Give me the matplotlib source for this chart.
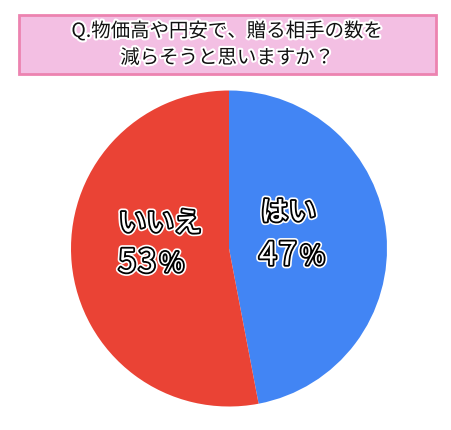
import matplotlib
matplotlib.use("Agg")
import matplotlib.pyplot as plt
import matplotlib.patches as patches
import matplotlib.patheffects as pe

plt.rcParams['font.family'] = ['Noto Sans CJK JP', 'DejaVu Sans']

# Chart data
title = "Q.物価高や円安で、贈る相手の数を\n減らそうと思いますか？"
labels = ["はい", "いいえ"]
values = [47, 53]
colors = ["#4285f4", "#ea4335"]

W, H = 452, 431
fig = plt.figure(figsize=(W / 100, H / 100), dpi=100)

# Title box (pixel coords converted to figure fraction)
box = patches.Rectangle((19 / W, 1 - 75 / H), 417 / W, 59 / H,
                        transform=fig.transFigure, facecolor="#f3bfe3",
                        edgecolor="#ec83b0", linewidth=2)
fig.patches.append(box)
fig.text(227.5 / W, 1 - 45.5 / H, title, ha="center", va="center",
         fontsize=14, linespacing=1.35, color="#111111",
         path_effects=[pe.withStroke(linewidth=3, foreground="white")])

# Pie
cx, cy, r = 229, 249.5, 158
ax = fig.add_axes([(cx - r) / W, 1 - (cy + r) / H, 2 * r / W, 2 * r / H])
ax.pie(values, colors=colors, startangle=90, counterclock=False,
       radius=1, wedgeprops=dict(linewidth=0))
ax.set_xlim(-1, 1)
ax.set_ylim(-1, 1)
ax.axis("off")

label_fx = [pe.Stroke(linewidth=5, foreground="white"),
            pe.Stroke(linewidth=2.6, foreground="black"),
            pe.Normal()]

# label positions in data units: (name x, name y, pct x, pct y)
label_pos = [(0.2, 0.231, 0.19, -0.047),
             (-0.7, 0.161, -0.7, -0.092)]
for lab, val, (lx, ly, px, py) in zip(labels, values, label_pos):
    ax.text(lx, ly, lab, ha="left", va="center", fontsize=20,
            fontweight="medium", color="white", path_effects=label_fx)
    # draw digits one by one so they get a little extra spacing
    chars = list(str(val))
    prev = ax.text(px, py, chars[0], ha="left", va="center", fontsize=23,
                   color="white", path_effects=label_fx)
    for ch in chars[1:]:
        prev = ax.annotate(ch, xy=(1, 0.5), xycoords=prev, xytext=(1.5, 0),
                           textcoords="offset points", ha="left", va="center",
                           fontsize=23, color="white", path_effects=label_fx)
    # smaller percent sign placed right after the digits
    ax.annotate("％", xy=(1, 0.5), xycoords=prev, xytext=(2, -1),
                textcoords="offset points", ha="left", va="center",
                fontsize=19, color="white", path_effects=label_fx)

fig.savefig("out.png", dpi=100)
